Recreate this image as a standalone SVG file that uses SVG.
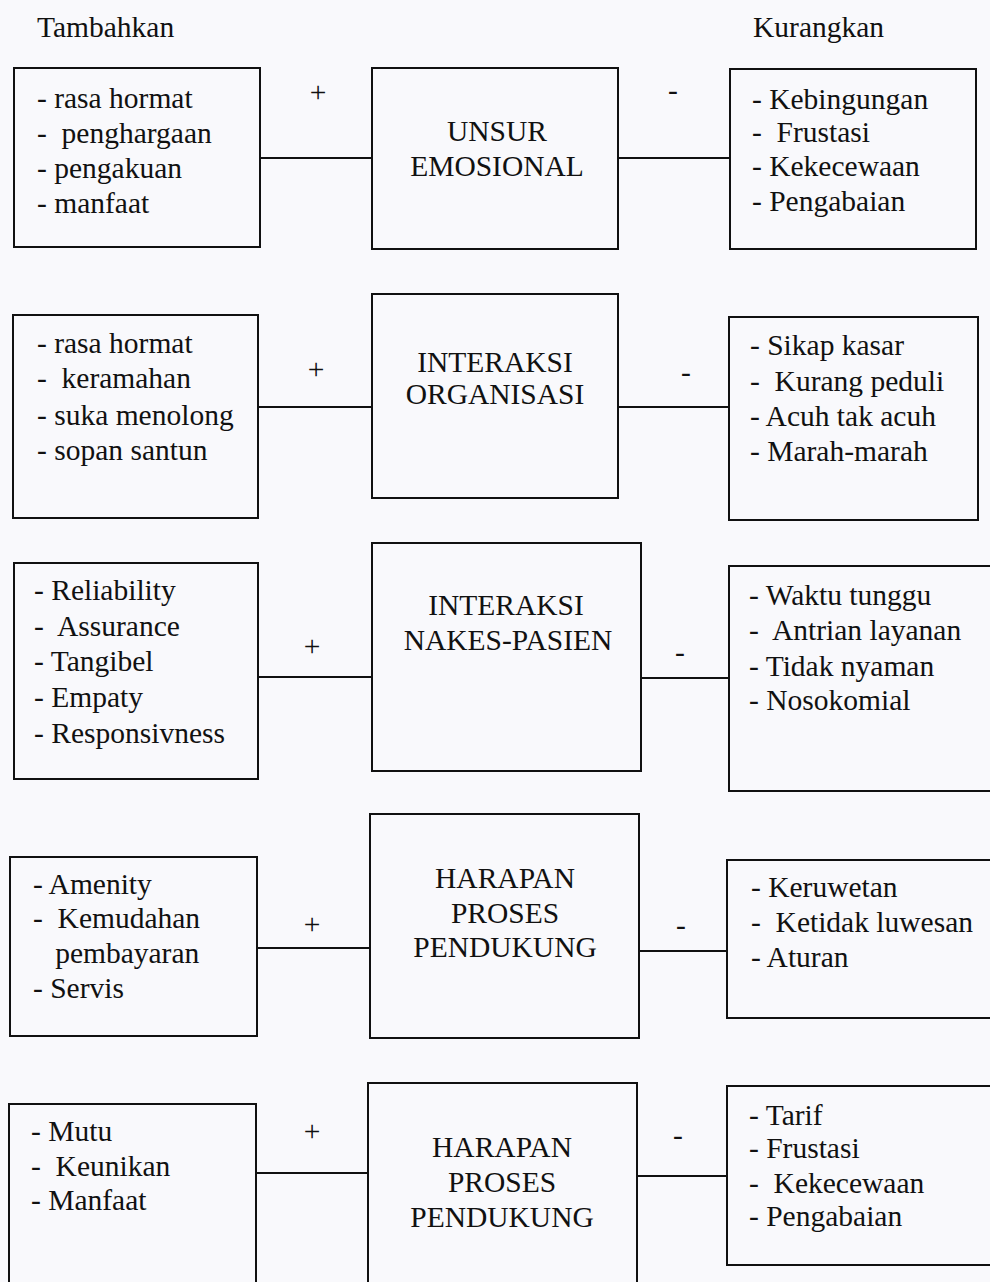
<svg xmlns="http://www.w3.org/2000/svg" width="990" height="1282" viewBox="0 0 990 1282">
<style>
text{font-family:"Liberation Serif","Times New Roman",serif;font-size:29.5px;fill:#111;white-space:pre}
.c{text-anchor:middle}
.box{fill:none;stroke:#111;stroke-width:2}
.ln{stroke:#111;stroke-width:2}
</style>
<rect width="990" height="1282" fill="#f9f9fc"/>
<text x="37" y="37">Tambahkan</text>
<text x="753" y="37">Kurangkan</text>
<g id="connectors">
<line class="ln" x1="260" y1="158" x2="372" y2="158"/>
<line class="ln" x1="618" y1="158" x2="730" y2="158"/>
<line class="ln" x1="258" y1="407" x2="372" y2="407"/>
<line class="ln" x1="618" y1="407" x2="729" y2="407"/>
<line class="ln" x1="258" y1="677" x2="372" y2="677"/>
<line class="ln" x1="641" y1="678" x2="729" y2="678"/>
<line class="ln" x1="257" y1="948" x2="370" y2="948"/>
<line class="ln" x1="639" y1="951" x2="727" y2="951"/>
<line class="ln" x1="256" y1="1173" x2="368" y2="1173"/>
<line class="ln" x1="637" y1="1176" x2="727" y2="1176"/>
<text class="c" x="318" y="102">+</text>
<text class="c" x="673" y="100">-</text>
<text class="c" x="316" y="379">+</text>
<text class="c" x="686" y="382">-</text>
<text class="c" x="312" y="656">+</text>
<text class="c" x="680" y="662">-</text>
<text class="c" x="312" y="934">+</text>
<text class="c" x="681" y="935">-</text>
<text class="c" x="312" y="1141">+</text>
<text class="c" x="678" y="1145">-</text>
</g>
<g id="r1-left"><rect class="box" x="14" y="68" width="246" height="179"/>
<text x="37" y="108">- rasa hormat</text><text x="37" y="143">-  penghargaan</text><text x="37" y="178">- pengakuan</text><text x="37" y="213">- manfaat</text></g>
<g id="r1-center"><rect class="box" x="372" y="68" width="246" height="181"/>
<text class="c" x="497" y="141">UNSUR</text><text class="c" x="497" y="176">EMOSIONAL</text></g>
<g id="r1-right"><rect class="box" x="730" y="69" width="246" height="180"/>
<text x="752" y="109">- Kebingungan</text><text x="752" y="142">-  Frustasi</text><text x="752" y="176">- Kekecewaan</text><text x="752" y="211">- Pengabaian</text></g>
<g id="r2-left"><rect class="box" x="13" y="315" width="245" height="203"/>
<text x="37" y="353">- rasa hormat</text><text x="37" y="388">-  keramahan</text><text x="37" y="425">- suka menolong</text><text x="37" y="460">- sopan santun</text></g>
<g id="r2-center"><rect class="box" x="372" y="294" width="246" height="204"/>
<text class="c" x="495" y="372">INTERAKSI</text><text class="c" x="495" y="404">ORGANISASI</text></g>
<g id="r2-right"><rect class="box" x="729" y="317" width="249" height="203"/>
<text x="750" y="355">- Sikap kasar</text><text x="750" y="391">-  Kurang peduli</text><text x="750" y="426">- Acuh tak acuh</text><text x="750" y="461">- Marah-marah</text></g>
<g id="r3-left"><rect class="box" x="14" y="563" width="244" height="216"/>
<text x="34" y="600">- Reliability</text><text x="34" y="636">-  Assurance</text><text x="34" y="671">- Tangibel</text><text x="34" y="707">- Empaty</text><text x="34" y="743">- Responsivness</text></g>
<g id="r3-center"><rect class="box" x="372" y="543" width="269" height="228"/>
<text class="c" x="506" y="615">INTERAKSI</text><text class="c" x="508" y="650">NAKES-PASIEN</text></g>
<g id="r3-right"><path class="box" d="M992 566 H729 V791 H992"/>
<text x="749" y="605">- Waktu tunggu</text><text x="749" y="640">-  Antrian layanan</text><text x="749" y="676">- Tidak nyaman</text><text x="749" y="710">- Nosokomial</text></g>
<g id="r4-left"><rect class="box" x="10" y="857" width="247" height="179"/>
<text x="33" y="894">- Amenity</text><text x="33" y="928">-  Kemudahan</text><text x="33" y="963">   pembayaran</text><text x="33" y="998">- Servis</text></g>
<g id="r4-center"><rect class="box" x="370" y="814" width="269" height="224"/>
<text class="c" x="505" y="888">HARAPAN</text><text class="c" x="505" y="923">PROSES</text><text class="c" x="505" y="957">PENDUKUNG</text></g>
<g id="r4-right"><path class="box" d="M992 860 H727 V1018 H992"/>
<text x="751" y="897">- Keruwetan</text><text x="751" y="932">-  Ketidak luwesan</text><text x="751" y="967">- Aturan</text></g>
<g id="r5-left"><path class="box" d="M9 1290 V1104 H256 V1290"/>
<text x="31" y="1141">- Mutu</text><text x="31" y="1176">-  Keunikan</text><text x="31" y="1210">- Manfaat</text></g>
<g id="r5-center"><path class="box" d="M368 1290 V1083 H637 V1290"/>
<text class="c" x="502" y="1157">HARAPAN</text><text class="c" x="502" y="1192">PROSES</text><text class="c" x="502" y="1227">PENDUKUNG</text></g>
<g id="r5-right"><path class="box" d="M992 1086 H727 V1265 H992"/>
<text x="749" y="1125">- Tarif</text><text x="749" y="1158">- Frustasi</text><text x="749" y="1193">-  Kekecewaan</text><text x="749" y="1226">- Pengabaian</text></g>
</svg>
